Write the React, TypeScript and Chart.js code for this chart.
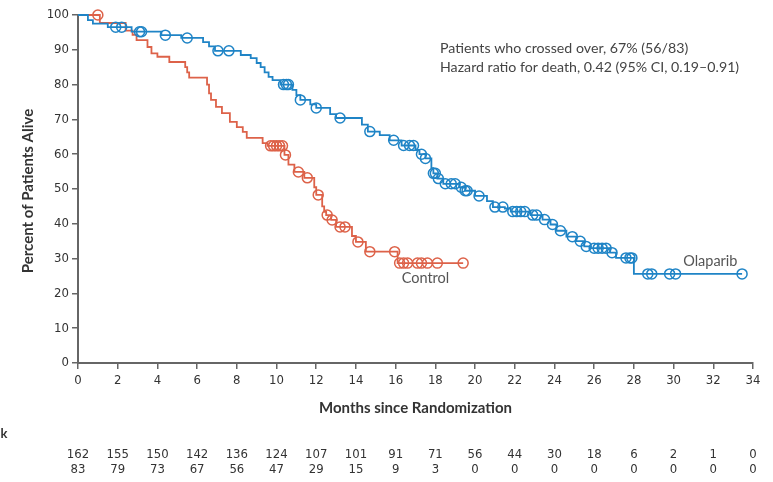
import React, { useEffect, useRef } from 'react';
import { Chart, registerables } from 'chart.js';

Chart.register(...registerables);

// ---- Data ----
const olaparibTimes = [0, 0.5, 0.75, 1.5, 2.7, 4.2, 5.2, 6.3, 6.6, 6.9, 8.2, 8.7, 9.0, 9.2, 9.4, 9.6, 9.8, 10.2, 10.8, 11.0, 11.2, 11.7, 12.0, 12.7, 13.0, 14.3, 14.6, 15.2, 15.7, 16.3, 17.0, 17.2, 17.5, 17.8, 17.9, 18.1, 18.4, 19.2, 19.5, 20.0, 20.6, 20.9, 21.5, 21.8, 22.8, 23.4, 23.8, 24.1, 24.6, 25.1, 25.5, 25.8, 26.8, 27.1, 28.0, 33.45];
const olaparibSurvival = [100, 98.5, 97.5, 96.5, 95.2, 94.2, 93.4, 92.2, 91, 89.7, 88.5, 87.6, 86.2, 85, 83.5, 82.2, 81.3, 80, 78.5, 77, 75.6, 74.3, 73.3, 71.5, 70.4, 68.5, 66.5, 65.5, 64, 62.5, 61.2, 60, 58.8, 56, 54.5, 53, 51.5, 50.5, 49.5, 48, 46.5, 44.8, 44.4, 43.5, 42.5, 41.2, 39.8, 38, 36.3, 35, 33.5, 33, 31.7, 30.2, 25.6, 25.6];
const olaparibCensored = [1.9, 2.2, 3.1, 3.2, 4.4, 5.5, 7.05, 7.6, 10.35, 10.5, 10.6, 11.2, 12.0, 13.2, 14.7, 15.9, 16.4, 16.7, 16.9, 17.3, 17.5, 17.9, 18.0, 18.15, 18.5, 18.8, 19.0, 19.3, 19.5, 19.6, 20.2, 21.0, 21.4, 21.9, 22.1, 22.3, 22.5, 22.9, 23.1, 23.5, 23.9, 24.3, 24.9, 25.3, 25.6, 26.0, 26.2, 26.4, 26.6, 26.9, 27.6, 27.8, 27.9, 28.7, 28.9, 29.8, 30.1, 33.45];

const controlTimes = [0, 1.1, 2.4, 2.75, 2.95, 3.5, 3.7, 4.0, 4.6, 5.4, 5.5, 5.6, 6.5, 6.6, 6.7, 6.95, 7.25, 7.65, 8.0, 8.3, 8.5, 9.3, 9.55, 10.4, 10.6, 10.9, 11.4, 11.9, 12.0, 12.3, 12.4, 12.5, 12.75, 13.0, 13.8, 14.0, 14.5, 16.1, 19.4];
const controlSurvival = [100, 97.7, 95.5, 94.3, 92.8, 90.8, 89, 88, 86.5, 85, 83.5, 82, 80, 77.5, 75.6, 73.6, 71.8, 69.3, 67.8, 66.4, 64.7, 63.2, 62.4, 59.8, 57, 54.9, 53.2, 50.5, 48.3, 45, 43.4, 42.5, 41.1, 39.1, 36.5, 34.8, 32, 28.7, 28.7];
const controlCensored = [1.0, 9.7, 9.85, 10.0, 10.15, 10.3, 10.45, 11.1, 11.55, 12.1, 12.55, 12.8, 13.2, 13.45, 14.1, 14.7, 15.95, 16.2, 16.4, 16.6, 17.1, 17.3, 17.6, 18.1, 19.4];

const xTickValues = [0, 2, 4, 6, 8, 10, 12, 14, 16, 18, 20, 22, 24, 26, 28, 30, 32, 34];
const atRiskOlaparib = [162, 155, 150, 142, 136, 124, 107, 101, 91, 71, 56, 44, 30, 18, 6, 2, 1, 0];
const atRiskControl = [83, 79, 73, 67, 56, 47, 29, 15, 9, 3, 0, 0, 0, 0, 0, 0, 0, 0];

const annotationLines = [
  'Patients who crossed over, 67% (56/83)',
  'Hazard ratio for death, 0.42 (95% CI, 0.19\u20130.91)',
];
const yTitle = 'Percent of Patients Alive';
const xTitle = 'Months since Randomization';
const atRiskTitle = 'No. at Risk';
const olaparibLabel = 'Olaparib';
const controlLabel = 'Control';

const BLUE = '#1f84c6';
const RED = '#dd6249';
const AXIS = '#666666';
const TEXT = '#333333';
const NARROW = "'Liberation Sans Narrow', 'DejaVu Sans Condensed', sans-serif";
const SANS = "Lato, 'Open Sans', sans-serif";

function stepValue(times: number[], surv: number[], t: number): number {
  let v = surv[0];
  for (let i = 0; i < times.length; i++) {
    if (times[i] <= t) v = surv[i];
  }
  return v;
}

function toPoints(times: number[], surv: number[]) {
  return times.map((t, i) => ({ x: t, y: surv[i] }));
}

function censorPoints(cens: number[], times: number[], surv: number[]) {
  return cens.map((t) => ({ x: t, y: stepValue(times, surv, t) }));
}

const overlayPlugin = {
  id: 'kmOverlay',
  afterDraw(chart: any) {
    const ctx = chart.ctx as CanvasRenderingContext2D;
    const xs = chart.scales.x;
    const ys = chart.scales.y;
    const area = chart.chartArea;
    ctx.save();

    // annotation
    ctx.fillStyle = '#444444';
    ctx.font = `14.2px ${SANS}`;
    ctx.textAlign = 'left';
    ctx.textBaseline = 'middle';
    ctx.fillText(annotationLines[0], 440, 48);
    ctx.fillText(annotationLines[1], 440, 67);

    // curve labels
    ctx.fillStyle = '#555555';
    ctx.font = `14.5px ${SANS}`;
    ctx.textAlign = 'center';
    ctx.fillText(controlLabel, xs.getPixelForValue(17.5), ys.getPixelForValue(24.3));
    ctx.fillText(olaparibLabel, xs.getPixelForValue(31.85), ys.getPixelForValue(29.2));

    // axis titles
    ctx.fillStyle = TEXT;
    ctx.font = `bold 15px ${SANS}`;
    ctx.textAlign = 'center';
    ctx.fillText(xTitle, (area.left + area.right) / 2, 408);
    ctx.save();
    ctx.translate(28, 191);
    ctx.rotate(-Math.PI / 2);
    ctx.fillText(yTitle, 0, 0);
    ctx.restore();

    // at-risk table
    ctx.font = `bold 13px ${SANS}`;
    ctx.textAlign = 'right';
    ctx.fillText(atRiskTitle, 7.5, 434);
    ctx.font = `13px ${NARROW}`;
    ctx.textAlign = 'center';
    xTickValues.forEach((t, i) => {
      const px = xs.getPixelForValue(t);
      ctx.fillText(String(atRiskOlaparib[i]), px, 455);
      ctx.fillText(String(atRiskControl[i]), px, 470);
    });
    ctx.restore();
  },
};

export default function App() {
  const canvasRef = useRef<HTMLCanvasElement | null>(null);

  useEffect(() => {
    if (!canvasRef.current) return;
    const chart = new Chart(canvasRef.current, {
      type: 'scatter',
      data: {
        datasets: [
          {
            label: 'Olaparib censored',
            data: censorPoints(olaparibCensored, olaparibTimes, olaparibSurvival),
            showLine: false,
            pointStyle: 'circle',
            pointRadius: 5,
            pointBackgroundColor: 'rgba(0,0,0,0)',
            pointBorderColor: BLUE,
            pointBorderWidth: 1.5,
            clip: false,
          } as any,
          {
            label: 'Olaparib',
            data: toPoints(olaparibTimes, olaparibSurvival),
            showLine: true,
            stepped: true,
            borderColor: BLUE,
            borderWidth: 1.8,
            pointRadius: 0,
            clip: false,
          } as any,
          {
            label: 'Control censored',
            data: censorPoints(controlCensored, controlTimes, controlSurvival),
            showLine: false,
            pointStyle: 'circle',
            pointRadius: 5,
            pointBackgroundColor: 'rgba(0,0,0,0)',
            pointBorderColor: RED,
            pointBorderWidth: 1.5,
            clip: false,
          } as any,
          {
            label: 'Control',
            data: toPoints(controlTimes, controlSurvival),
            showLine: true,
            stepped: true,
            borderColor: RED,
            borderWidth: 1.8,
            pointRadius: 0,
            clip: false,
          } as any,
        ],
      },
      options: {
        responsive: false,
        animation: false,
        layout: { padding: { left: 0, right: 20, top: 15, bottom: 89 } },
        plugins: {
          legend: { display: false },
          tooltip: { enabled: false },
          title: { display: false },
        },
        scales: {
          x: {
            type: 'linear',
            min: 0,
            max: 34,
            afterFit: (s: any) => { s.height = 30; },
            afterBuildTicks: (s: any) => { s.ticks = xTickValues.map((v) => ({ value: v })); },
            ticks: { color: TEXT, font: { family: NARROW, size: 13 }, padding: 4 },
            grid: { display: true, drawOnChartArea: false, drawTicks: true, tickLength: 6, color: AXIS, lineWidth: 1.5 },
            border: { display: true, color: AXIS, width: 2 },
          },
          y: {
            type: 'linear',
            min: 0,
            max: 100,
            afterFit: (s: any) => { s.width = 78; },
            ticks: { stepSize: 10, color: TEXT, font: { family: NARROW, size: 13 }, padding: 3 },
            grid: { display: true, drawOnChartArea: false, drawTicks: true, tickLength: 6, color: AXIS, lineWidth: 1.5 },
            border: { display: true, color: AXIS, width: 2 },
          },
        },
      } as any,
      plugins: [overlayPlugin],
    });
    return () => chart.destroy();
  }, []);

  return (
    <div style={{ position: 'absolute', left: 0, top: 0, width: 773, height: 482, background: '#ffffff' }}>
      <canvas ref={canvasRef} width={773} height={482} style={{ width: 773, height: 482, display: 'block' }} />
    </div>
  );
}
